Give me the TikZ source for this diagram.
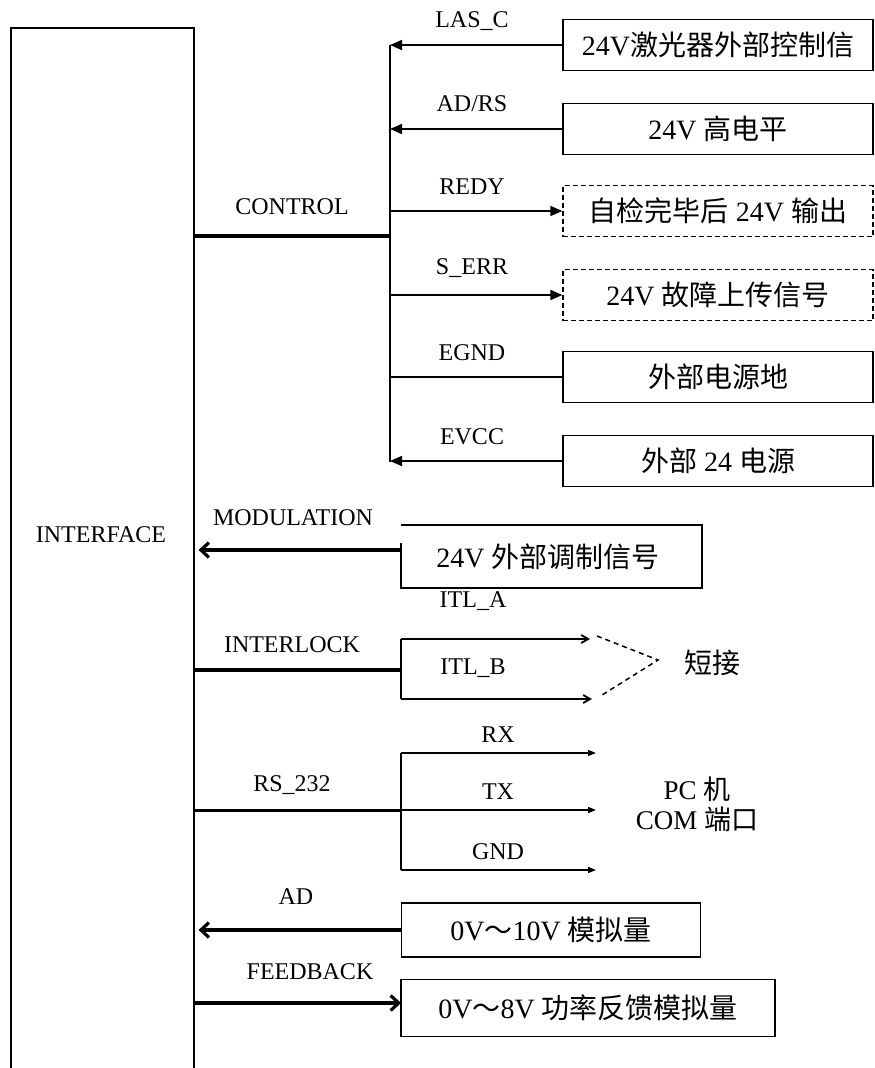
\documentclass[tikz,border=0pt]{standalone}
\usepackage{fontspec}
\setmainfont{Liberation Serif}
\newfontfamily\cjk{Noto Sans CJK SC}
\usetikzlibrary{arrows.meta}
\begin{document}
\begin{tikzpicture}[x=1pt,y=-1pt,
  lbl/.style={font=\fontsize{24}{28}\selectfont, inner sep=0pt},
  btxt/.style={font=\fontsize{28}{32}\selectfont, inner sep=0pt},
  sigbox/.style={draw, line width=1.5pt, minimum width=310pt, minimum height=51pt, inner sep=0pt, font=\fontsize{28}{32}\selectfont},
  dashbox/.style={sigbox, line width=1.3pt, dash pattern=on 5pt off 3pt},
  wire/.style={line width=1.6pt},
  tri/.style={wire, -{Triangle[length=12pt,width=10pt]}},
  bus/.style={line width=4.5pt},
  fat/.style={line width=3.2pt, -{Straight Barb[length=8pt,width=15pt]}},
  barb/.style={line width=1.8pt, -{Straight Barb[length=7pt,width=8pt]}},
  small/.style={line width=1.5pt, -{Triangle[length=8pt,width=6pt]}}
]
\useasboundingbox (0,0) rectangle (875,1068);
% interface block
\node[draw, line width=1.6pt, minimum width=183pt, minimum height=1080pt, anchor=north west, inner sep=0pt] (iface) at (10,27) {};
\node[lbl] (ifacelbl) at (101,535) {INTERFACE};

% CONTROL group
\coordinate (ctop) at (390,45);
\coordinate (cbot) at (390,462);
\coordinate (cjoin) at (390,236);
\draw[wire] (ctop) -- (cbot);
\draw[bus] (iface.east |- cjoin) -- (cjoin);
\node[lbl] (control) at (292,207) {CONTROL};

\node[sigbox] (b1) at (718,45) {24V{\cjk 激光器外部控制信}};
\node[sigbox] (b2) at (718,129) {24V {\cjk 高电平}};
\node[dashbox] (b3) at (718,211) {{\cjk 自检完毕后} 24V {\cjk 输出}};
\node[dashbox] (b4) at (718,295) {24V {\cjk 故障上传信号}};
\node[sigbox] (b5) at (718,377) {{\cjk 外部电源地}};
\node[sigbox] (b6) at (718,461) {{\cjk 外部} 24 {\cjk 电源}};

\draw[tri] (b1.west) -- (ctop |- b1.west);
\draw[tri] (b2.west) -- (ctop |- b2.west);
\draw[tri] (ctop |- b3.west) -- (b3.west);
\draw[tri] (ctop |- b4.west) -- (b4.west);
\draw[wire] (ctop |- b5.west) -- (b5.west);
\draw[tri] (b6.west) -- (ctop |- b6.west);

\node[lbl] (llasc) at (472,21) {LAS\_C};
\node[lbl] (ladrs) at (472,104) {AD/RS};
\node[lbl] (lredy) at (472,187) {REDY};
\node[lbl] (lserr) at (472,268) {S\_ERR};
\node[lbl] (legnd) at (472,353) {EGND};
\node[lbl] (levcc) at (472,437) {EVCC};

% MODULATION
\node[lbl] (lmod) at (293,518) {MODULATION};
\node[btxt] (modtxt) at (548,557) {24V {\cjk 外部调制信号}};
\coordinate (modin) at (401,550);
\draw[wire] (401,543) |- (702,588) |- (401,525);
\draw[fat] (modin) -- ([xshift=4pt]iface.east |- modin);

% INTERLOCK
\node[lbl] (litl) at (292,645) {INTERLOCK};
\coordinate (ijoin) at (401,670);
\coordinate (ia) at (401,639);
\coordinate (ib) at (401,699);
\coordinate (iatip) at (590,639);
\coordinate (ibtip) at (592,699);
\draw[bus] (iface.east |- ijoin) -- (ijoin);
\draw[wire] (ia) -- (ib);
\draw[barb] (ia) -- (iatip);
\draw[barb] (ib) -- (ibtip);
\node[lbl] (litla) at (473,601) {ITL\_A};
\node[lbl] (litlb) at (473,668) {ITL\_B};
\node[btxt] (short) at (712,663) {\cjk 短接};
\coordinate (apex) at (658,660);
\draw[line width=1.5pt, dash pattern=on 5pt off 4pt] (597,636) -- (apex) -- (602,695);

% RS_232
\node[lbl] (lrs) at (292,785) {RS\_232};
\coordinate (rjoin) at (401,810);
\coordinate (rrx) at (401,753);
\coordinate (rgnd) at (401,870);
\draw[line width=3pt] (iface.east |- rjoin) -- (rjoin);
\draw[wire] (rrx) -- (rgnd);
\draw[small] (rrx) -- (596,753);
\draw[small] (rjoin) -- (596,810);
\draw[small] (rgnd) -- (596,870);
\node[lbl] (lrx) at (498,735) {RX};
\node[lbl] (ltx) at (498,792) {TX};
\node[lbl] (lgnd) at (498,852) {GND};
\node[font=\fontsize{27}{32}\selectfont, align=center, inner sep=0pt] (pc) at (697,804) {PC {\cjk 机}\\[-2pt]COM {\cjk 端口}};

% AD
\node[lbl] (lad) at (296,897) {AD};
\node[draw, line width=1.5pt, minimum width=299pt, minimum height=54pt, inner sep=0pt, font=\fontsize{28}{32}\selectfont] (adbox) at (551,930) {0V{\cjk ～}10V {\cjk 模拟量}};
\draw[fat] (adbox.west) -- ([xshift=4pt]iface.east |- adbox.west);

% FEEDBACK
\node[lbl] (lfb) at (310,972) {FEEDBACK};
\node[draw, line width=1.5pt, minimum width=374pt, minimum height=57pt, inner sep=0pt, font=\fontsize{28}{32}\selectfont] (fbbox) at (588,1008) {0V{\cjk ～}8V {\cjk 功率反馈模拟量}};
\coordinate (fbin) at (401,1003);
\draw[fat] (iface.east |- fbin) -- (fbin);
\end{tikzpicture}
\end{document}
